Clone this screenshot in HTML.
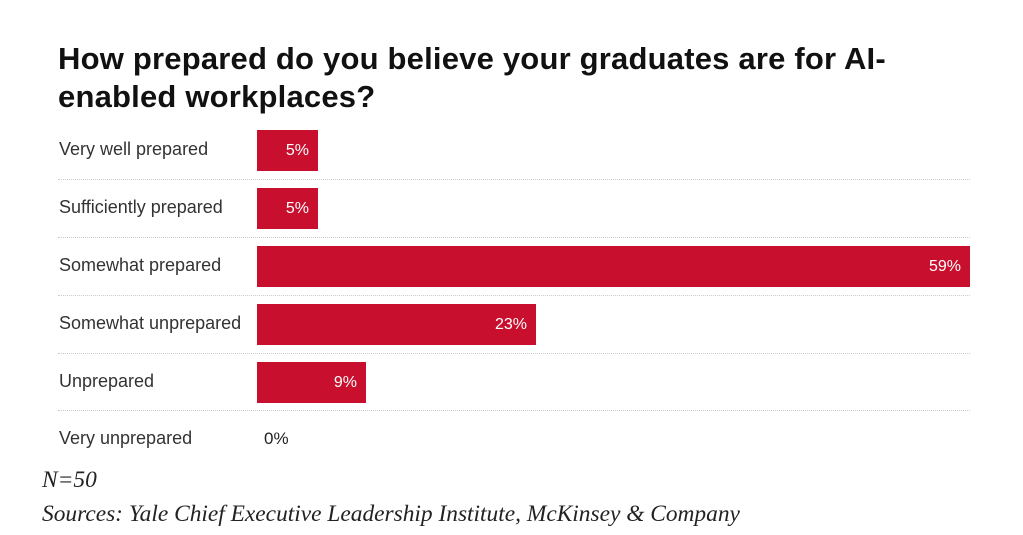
<!DOCTYPE html>
<html><head><style>
body{margin:0;width:1023px;height:535px;background:#fff;position:relative;font-family:"Liberation Sans",sans-serif;overflow:hidden}
.t{position:absolute;left:58px;top:40px;font-size:31px;font-weight:bold;line-height:38px;color:#111;letter-spacing:0.2px}
.l{position:absolute;left:59px;font-size:18px;color:#333}
.b{position:absolute;left:257px;height:41px;background:#c8102e;color:#fff;font-size:16px;text-align:right;box-sizing:border-box;padding-right:9px;line-height:41px}
.s{position:absolute;left:257px;width:713px;border-top:1px dotted #ccc}
.f{position:absolute;left:42px;font-family:"Liberation Serif",serif;font-style:italic;font-size:23.4px;color:#222}
</style></head><body>
<div class="t">How prepared do you believe your graduates are for AI-<br>enabled workplaces?</div>
<div class="l" style="top:139px">Very well prepared</div>
<div class="l" style="top:197px">Sufficiently prepared</div>
<div class="l" style="top:255px">Somewhat prepared</div>
<div class="l" style="top:313px">Somewhat unprepared</div>
<div class="l" style="top:371px">Unprepared</div>
<div class="l" style="top:428px">Very unprepared</div>
<div class="b" style="top:130px;width:61px">5%</div>
<div class="b" style="top:188px;width:61px">5%</div>
<div class="b" style="top:246px;width:713px">59%</div>
<div class="b" style="top:304px;width:279px">23%</div>
<div class="b" style="top:362px;width:109px">9%</div>
<div class="l" style="top:429px;left:264px;color:#222;font-size:17px">0%</div>
<div class="s" style="top:179px;left:58px;width:912px"></div>
<div class="s" style="top:237px;left:58px;width:912px"></div>
<div class="s" style="top:295px;left:58px;width:912px"></div>
<div class="s" style="top:353px;left:58px;width:912px"></div>
<div class="s" style="top:410px;left:58px;width:912px"></div>
<div class="f" style="top:467px">N=50</div>
<div class="f" style="top:501px">Sources: Yale Chief Executive Leadership Institute, McKinsey &amp; Company</div>
</body></html>
